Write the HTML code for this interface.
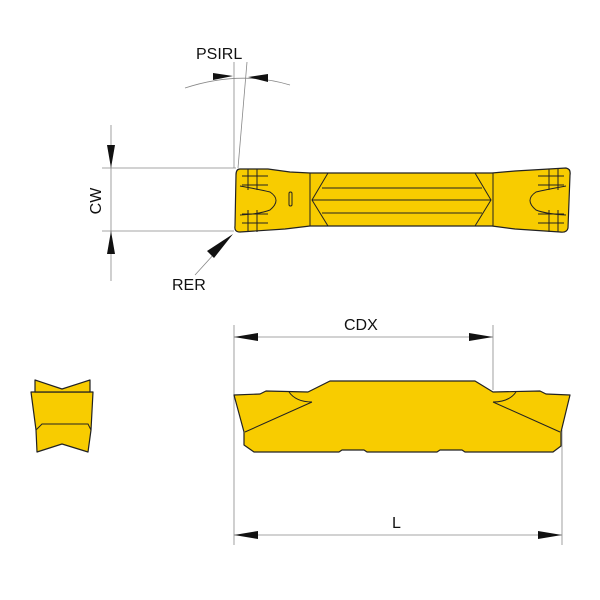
<!DOCTYPE html>
<html><head><style>body{margin:0;background:#fff}svg{display:block}</style></head><body>
<svg width="600" height="600" viewBox="0 0 600 600" xmlns="http://www.w3.org/2000/svg" font-family="Liberation Sans, DejaVu Sans, sans-serif">
<g stroke="#888" stroke-width="0.8" fill="none">
<line x1="102" y1="168" x2="236" y2="168"/>
<line x1="102" y1="231" x2="234" y2="231"/>
<line x1="111" y1="125" x2="111" y2="281"/>
<line x1="234" y1="62" x2="234" y2="168"/>
<line x1="247" y1="62" x2="238" y2="168"/>
<path d="M185,88 Q240,70 290,85"/>
<line x1="195" y1="275" x2="225" y2="242"/>
<line x1="234" y1="325" x2="234" y2="545"/>
<line x1="493" y1="325" x2="493" y2="390"/>
<line x1="562" y1="430" x2="562" y2="545"/>
<line x1="234" y1="337" x2="493" y2="337"/>
<line x1="234" y1="535" x2="562" y2="535"/>
</g>
<g fill="#111">
<polygon points="107,145 115,145 111,168"/>
<polygon points="107,254 115,254 111,231"/>
<polygon points="213,73 233,76 213,80"/>
<polygon points="268,74 248,77 268,82"/>
<polygon points="233,234 207,251 214,258"/>
<polygon points="234,337 258,333 258,341"/>
<polygon points="493,337 469,333 469,341"/>
<polygon points="234,535 258,531 258,539"/>
<polygon points="562,535 538,531 538,539"/>
</g>
<g font-size="16" fill="#111">
<text x="196" y="59">PSIRL</text>
<text x="172" y="290">RER</text>
<text x="344" y="330">CDX</text>
<text x="392" y="528">L</text>
<text transform="translate(101,201) rotate(-90)" text-anchor="middle">CW</text>
</g>
<g fill="#f8cc00" stroke="#222" stroke-width="1.2" stroke-linejoin="round">
<path d="M240,169 L268,169 L290,172 L310,173 L492,173 L515,171 L566,168 Q571,169 570,175 L568,228 Q567,233 560,232 L515,229 L492,226 L310,226 L285,229 L240,232 Q234,232 235,226 L236,175 Q236,169 240,169 Z"/>
<path d="M31,392 L93,392 L91,430 L88,452 L62,444 L37,452 L36,430 Z"/>
<path d="M35,380 L62,389 L90,380 L90,392 L35,392 Z"/>
<path d="M234,395 L260,394 L266,391 L308,392 L330,381 L475,381 L493,392 L540,391 L546,394 L570,395 L561,432 L561,446 L553,452 L465,452 L462,450 L440,450 L437,452 L367,452 L364,450 L342,450 L339,452 L254,452 L244,445 L244,432 Z"/>
</g>
<g stroke="#222" stroke-width="1" fill="none">
<path d="M310,173 V226 M328,173 L312,200 L328,226 M475,173 L491,200 L475,226 M493,173 V226"/>
<path d="M322,188 H482 M312,200 H491 M322,213 H482"/>
<path d="M36,430 L42,424 L88,424 L91,430"/>
<path d="M245,432 L312,402 M289,392 Q296,402 312,402"/>
<path d="M560,432 L493,402 M516,392 Q509,402 493,402"/>
<path d="M242,176 L268,176 M242,185 L268,185 M248,169 V190 M257,169 V190 M240,186 Q262,190 270,192 Q282,200 270,210 Q260,214 240,215 M242,214 L268,214 M242,223 L268,223 M248,210 V232 M257,210 V232"/>
<rect x="289" y="192" width="3" height="14" rx="1.5"/>
<path d="M564,176 L538,176 M564,185 L538,185 M558,169 V190 M549,169 V190 M566,186 Q544,190 536,192 Q524,200 536,210 Q546,214 566,215 M564,214 L538,214 M564,223 L538,223 M558,210 V232 M549,210 V232"/>
</g>
</svg>
</body></html>
